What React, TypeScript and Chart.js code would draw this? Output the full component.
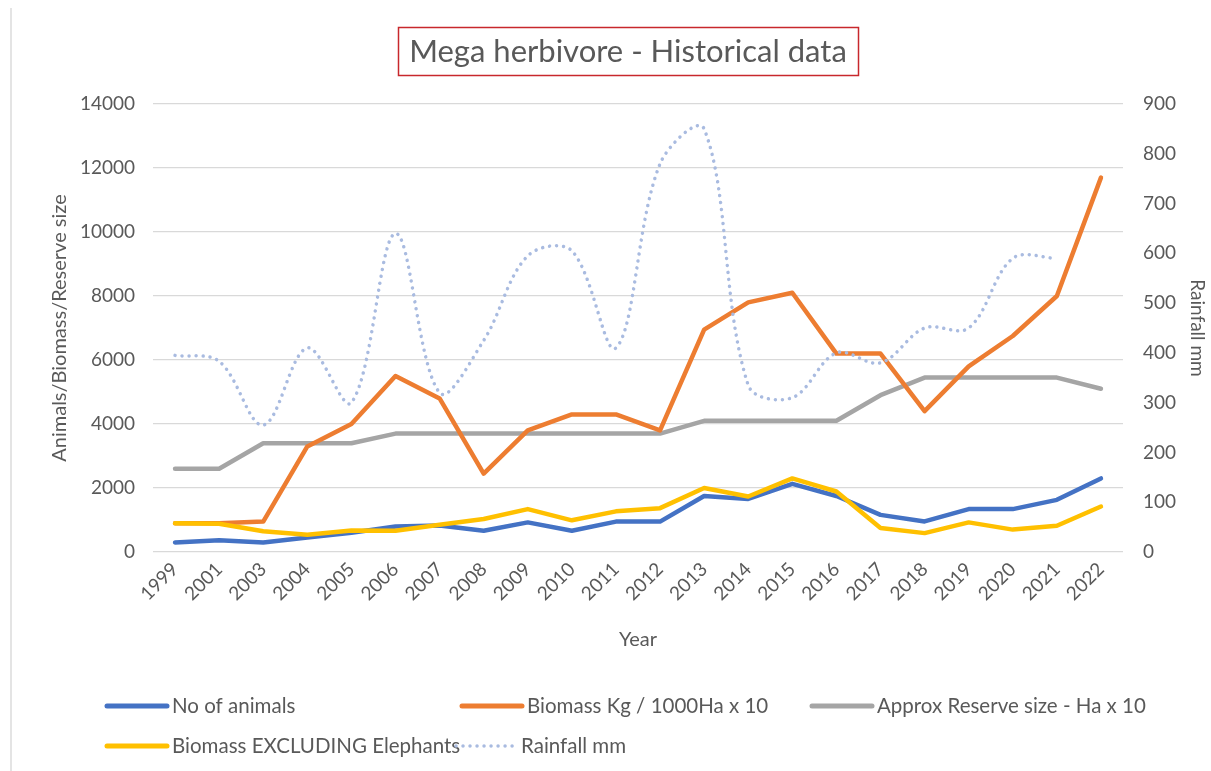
import React, { useEffect, useRef } from "react";
import { Chart, registerables } from "chart.js";

Chart.register(...registerables);

const TITLE = "Mega herbivore - Historical data";
const years = ["1999", "2001", "2003", "2004", "2005", "2006", "2007", "2008", "2009", "2010", "2011", "2012", "2013", "2014", "2015", "2016", "2017", "2018", "2019", "2020", "2021", "2022"];
const noOfAnimals = [300, 370, 300, 450, 600, 800, 830, 665, 925, 665, 950, 950, 1750, 1660, 2130, 1750, 1160, 955, 1340, 1340, 1630, 2300];
const biomass = [900, 900, 950, 3300, 4000, 5500, 4800, 2450, 3800, 4300, 4300, 3800, 6950, 7800, 8100, 6200, 6200, 4400, 5800, 6750, 8000, 11700];
const reserveSize = [2600, 2600, 3400, 3400, 3400, 3700, 3700, 3700, 3700, 3700, 3700, 3700, 4100, 4100, 4100, 4100, 4900, 5450, 5450, 5450, 5450, 5100];
const biomassExclElephants = [900, 880, 650, 540, 675, 665, 850, 1030, 1340, 990, 1270, 1370, 2000, 1735, 2300, 1890, 750, 590, 925, 700, 820, 1420];
const rainfall = [395, 383, 255, 410, 300, 640, 320, 425, 595, 605, 410, 780, 850, 335, 310, 400, 380, 450, 450, 590, 590, null];

const seriesNames = ["No of animals", "Biomass Kg / 1000Ha x 10", "Approx Reserve size - Ha x 10", "Biomass EXCLUDING Elephants", "Rainfall mm"];
const seriesColors = ["#4472c4", "#ed7d31", "#a5a5a5", "#ffc000", "#a9bbe0"];

const FONT = "Lato, 'Open Sans', 'Liberation Sans', sans-serif";
const TEXT = "#595959";

const titlePlugin = {
  id: "boxTitle",
  afterDraw(chart: any) {
    const ctx = chart.ctx;
    ctx.save();
    ctx.strokeStyle = "#e4e4e4";
    ctx.lineWidth = 2;
    ctx.beginPath();
    ctx.moveTo(11, 8);
    ctx.lineTo(11, 771);
    ctx.stroke();

    ctx.font = `31px ${FONT}`;
    ctx.fillStyle = TEXT;
    ctx.textAlign = "center";
    ctx.textBaseline = "middle";
    ctx.fillText(TITLE, 628, 52);
    ctx.strokeStyle = "#c8282c";
    ctx.lineWidth = 1.5;
    ctx.strokeRect(398.5, 27.5, 460, 48);
    ctx.restore();
  },
};

const legendPlugin = {
  id: "excelLegend",
  afterDraw(chart: any) {
    const ctx = chart.ctx;
    const slots = [
      [105, 706],
      [460, 706],
      [810, 706],
      [105, 746],
      [454, 746],
    ];
    ctx.save();
    ctx.font = `20.5px ${FONT}`;
    ctx.textBaseline = "middle";
    ctx.textAlign = "left";
    chart.data.datasets.forEach((ds: any, i: number) => {
      const [x, y] = slots[i];
      ctx.strokeStyle = ds.borderColor;
      ctx.lineWidth = ds.borderDash ? 3.5 : 5;
      ctx.lineCap = "round";
      ctx.setLineDash(ds.borderDash || []);
      ctx.beginPath();
      ctx.moveTo(x + 2, y);
      ctx.lineTo(x + 62, y);
      ctx.stroke();
      ctx.setLineDash([]);
      ctx.fillStyle = TEXT;
      ctx.fillText(ds.label, x + 67, y);
    });
    ctx.restore();
  },
};

export default function App() {
  const ref = useRef<HTMLCanvasElement | null>(null);

  useEffect(() => {
    document.body.style.margin = "0";
    document.body.style.background = "#ffffff";
    const canvas = ref.current;
    if (!canvas) return;
    const lineDs = (i: number, data: any[], order: number) => ({
      label: seriesNames[i],
      data,
      borderColor: seriesColors[i],
      backgroundColor: seriesColors[i],
      borderWidth: 4.5,
      pointRadius: 0,
      pointHoverRadius: 0,
      tension: 0,
      borderJoinStyle: "round",
      borderCapStyle: "round",
      yAxisID: "y",
      order,
    });
    const plain = (v: any) => String(v);
    const chart = new Chart(canvas, {
      type: "line",
      data: {
        labels: years,
        datasets: [
          lineDs(0, noOfAnimals, 5),
          lineDs(1, biomass, 3),
          lineDs(2, reserveSize, 4),
          lineDs(3, biomassExclElephants, 2),
          {
            label: seriesNames[4],
            data: rainfall,
            borderColor: seriesColors[4],
            backgroundColor: seriesColors[4],
            borderWidth: 3.5,
            borderDash: [0.01, 7],
            borderCapStyle: "round",
            pointRadius: 0,
            pointHoverRadius: 0,
            tension: 0.35,
            spanGaps: false,
            yAxisID: "y1",
            order: 1,
          },
        ],
      } as any,
      options: {
        responsive: false,
        animation: false,
        maintainAspectRatio: false,
        layout: { padding: { left: 0, right: 0, top: 104, bottom: 111 } },
        plugins: {
          legend: { display: false },
          title: { display: false },
          tooltip: { enabled: false },
        },
        scales: {
          x: {
            type: "category",
            offset: true,
            grid: { display: false, drawTicks: false },
            border: { display: false },
            ticks: {
              autoSkip: false,
              minRotation: 45,
              maxRotation: 45,
              padding: 6,
              color: TEXT,
              font: { family: FONT, size: 19 },
            },
            title: {
              display: true,
              text: "Year",
              color: TEXT,
              font: { family: FONT, size: 20 },
              padding: { top: 0, bottom: 8 },
            },
            afterFit(scale: any) {
              scale.height = 108;
            },
          },
          y: {
            type: "linear",
            position: "left",
            min: 0,
            max: 14000,
            ticks: {
              stepSize: 2000,
              padding: 18,
              color: TEXT,
              font: { family: FONT, size: 19 },
              callback: plain,
            },
            grid: { color: "#d9d9d9", lineWidth: 1.2, drawTicks: false },
            border: { display: false },
            title: {
              display: true,
              text: "Animals/Biomass/Reserve size",
              color: TEXT,
              font: { family: FONT, size: 20 },
              padding: { top: 48, bottom: 0 },
            },
            afterFit(scale: any) {
              scale.width = 153;
            },
          },
          y1: {
            type: "linear",
            position: "right",
            min: 0,
            max: 900,
            ticks: {
              stepSize: 100,
              padding: 20,
              color: TEXT,
              font: { family: FONT, size: 19 },
              callback: plain,
            },
            grid: { display: false, drawTicks: false },
            border: { display: false },
            title: {
              display: true,
              text: "Rainfall mm",
              color: TEXT,
              font: { family: FONT, size: 19 },
              padding: { top: 2, bottom: 0 },
            },
            afterFit(scale: any) {
              scale.width = 88;
            },
          },
        },
      } as any,
      plugins: [titlePlugin, legendPlugin],
    });
    return () => chart.destroy();
  }, []);

  return (
    <div style={{ width: 1211, height: 771, background: "#fff" }}>
      <canvas ref={ref} width={1211} height={771} style={{ display: "block", width: 1211, height: 771 }} />
    </div>
  );
}
